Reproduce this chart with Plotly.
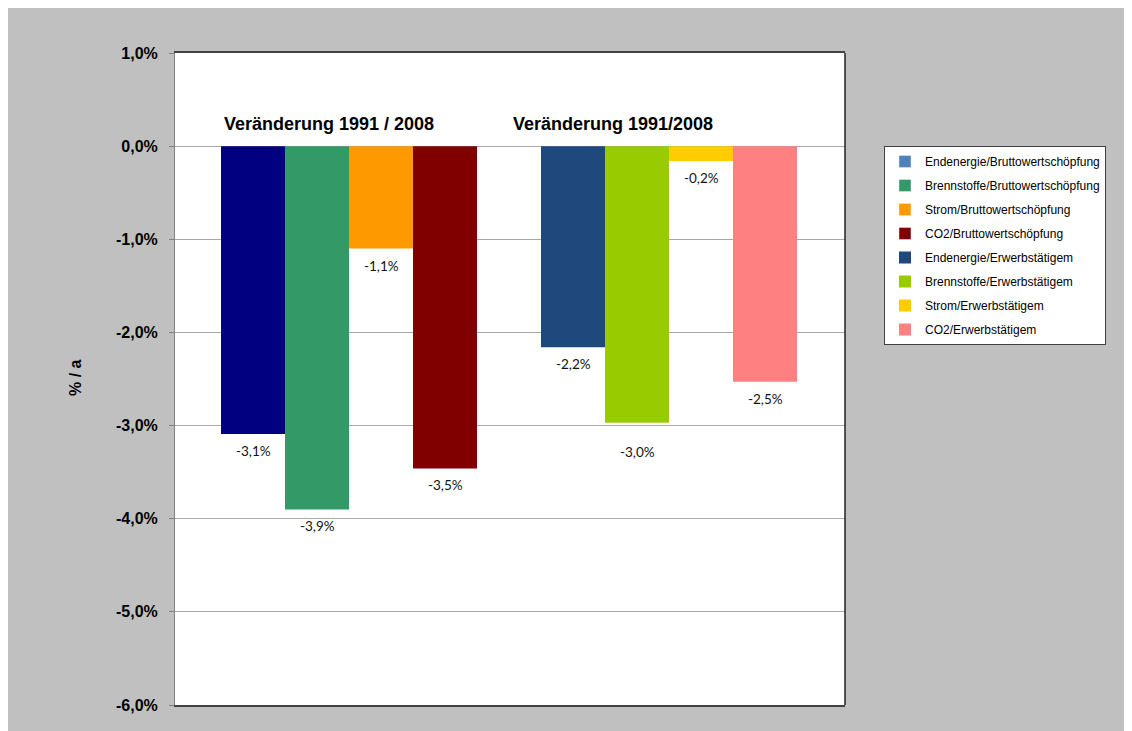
import plotly.graph_objects as go

categories = ["Veränderung 1991 / 2008", "Veränderung 1991/2008"]
group1_names = ["Endenergie/Bruttowertschöpfung", "Brennstoffe/Bruttowertschöpfung",
                "Strom/Bruttowertschöpfung", "CO2/Bruttowertschöpfung"]
group1_values = [-3.09, -3.90, -1.10, -3.46]
group2_names = ["Endenergie/Erwerbstätigem", "Brennstoffe/Erwerbstätigem",
                "Strom/Erwerbstätigem", "CO2/Erwerbstätigem"]
group2_values = [-2.16, -2.97, -0.16, -2.53]
y_ticks = [1, 0, -1, -2, -3, -4, -5, -6]

group1_colors = ["#000080", "#339966", "#FF9900", "#800000"]
group1_legend_colors = ["#4F81BD", "#339966", "#FF9900", "#800000"]
group2_colors = ["#1F497D", "#99CC00", "#FFCC00", "#FF8080"]

OFF = 8  # page body margin
W, H = 1132 - OFF, 731 - OFF
L, R, T, B = 175 - OFF, 845 - OFF, 53 - OFF, 705 - OFF

def fmt(v):
    return f"{v:.1f}".replace(".", ",") + "%"

fig = go.Figure()
slot_shift = [-96, -32, 32, 96]

for i in range(4):
    fig.add_trace(go.Bar(x=[None], y=[None], name=group1_names[i],
                         marker_color=group1_legend_colors[i],
                         offsetgroup=f"s{i}", legendgroup=f"a{i}", showlegend=True))
    fig.add_trace(go.Bar(x=[categories[0]], y=[group1_values[i]], name=group1_names[i],
                         marker_color=group1_colors[i], marker_line_width=0,
                         offsetgroup=f"s{i}", legendgroup=f"a{i}", showlegend=False,
                         hoverinfo="name+y"))
for i in range(4):
    fig.add_trace(go.Bar(x=[categories[1]], y=[group2_values[i]], name=group2_names[i],
                         marker_color=group2_colors[i], marker_line_width=0,
                         offsetgroup=f"s{i}", legendgroup=f"b{i}", showlegend=True))

annotations = []
for ci, vals in enumerate([group1_values, group2_values]):
    for i, v in enumerate(vals):
        extra = -12 if (ci == 1 and i == 1) else 0
        annotations.append(dict(x=categories[ci], y=v, xref="x", yref="y",
                                text=fmt(v), showarrow=False,
                                xshift=slot_shift[i], yshift=-17 + extra,
                                font=dict(family="Lato, Open Sans, sans-serif", size=13.5, color="#111")))

annotations.append(dict(x=categories[0], y=0, xref="x", yref="y", text=f"<b>{categories[0]}</b>",
                        showarrow=False, xshift=-20, yshift=22,
                        font=dict(family="Liberation Sans, Arial", size=18, color="#000")))
annotations.append(dict(x=categories[1], y=0, xref="x", yref="y", text=f"<b>{categories[1]}</b>",
                        showarrow=False, xshift=-56, yshift=22,
                        font=dict(family="Liberation Sans, Arial", size=18, color="#000")))
annotations.append(dict(x=(75 - OFF - L) / (R - L), y=(B - (378 - OFF)) / (B - T),
                        xref="paper", yref="paper", xanchor="center", yanchor="middle",
                        text="<b>% / a</b>", textangle=-90, showarrow=False,
                        font=dict(family="Liberation Sans, Arial", size=16, color="#000")))

shapes = [
    dict(type="line", xref="paper", yref="paper", x0=1, x1=1, y0=0, y1=1,
         line=dict(color="#202020", width=1.5)),
]

fig.update_layout(
    width=W, height=H,
    margin=dict(l=L, r=W - R, t=T, b=H - B, pad=0),
    paper_bgcolor="#C0C0C0", plot_bgcolor="#FFFFFF",
    barmode="group", bargap=0.2, bargroupgap=0,
    showlegend=True,
    legend=dict(x=(884 - OFF - L) / (R - L), y=(B - (146 - OFF)) / (B - T),
                xanchor="left", yanchor="top",
                bgcolor="#FFFFFF", bordercolor="#404040", borderwidth=1,
                font=dict(family="Liberation Sans, Arial", size=12, color="#000"),
                traceorder="grouped", tracegroupgap=5, itemwidth=30),
    annotations=annotations, shapes=shapes,
    font=dict(family="Liberation Sans, Arial"),
)
fig.update_xaxes(type="category", categoryorder="array", categoryarray=categories,
                 range=[-174 / 320, 1 + 176 / 320], showticklabels=False, ticks="",
                 showgrid=False, showline=True, mirror=True, linecolor="#404040", linewidth=1.5,
                 zeroline=False)
fig.update_yaxes(range=[-6, 1], tickvals=y_ticks, ticktext=[f"<b>{fmt(v)}</b>" for v in y_ticks],
                 tickfont=dict(family="Liberation Sans, Arial", size=16, color="#000"),
                 showgrid=True, gridcolor="#A8A8A8", gridwidth=1, zeroline=False,
                 showline=True, linecolor="#808080", linewidth=1,
                 ticks="outside", ticklen=5, tickcolor="#808080", ticklabelstandoff=8)

fig.write_html("out.html")
